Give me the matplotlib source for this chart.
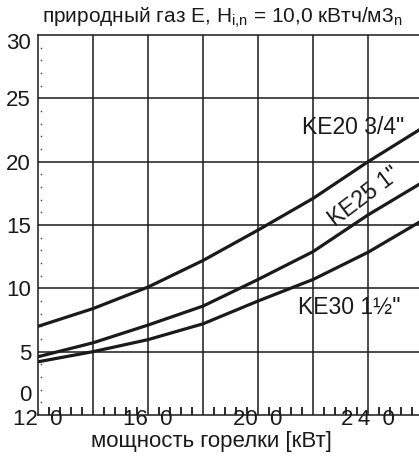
import matplotlib
matplotlib.use("Agg")
import matplotlib.pyplot as plt
import matplotlib.transforms as mtransforms
import numpy as np

plt.rcParams['font.family'] = ['Liberation Sans', 'DejaVu Sans']

# мощность горелки, кВт
power = [120, 140, 160, 180, 200, 220, 240, 260]
# значения по кривым
ke20 = [7.0, 8.4, 10.1, 12.2, 14.6, 17.1, 20.0, 22.7]
ke25 = [4.6, 5.7, 7.1, 8.6, 10.7, 12.9, 15.8, 18.4]
ke30 = [4.2, 5.0, 5.95, 7.2, 9.0, 10.7, 12.85, 15.4]

x_ticks = [120, 160, 200, 240]
x_ticklabels = ["12  0", "16  0", "20  0", "2\u20094  0"]
x_grid = [140, 160, 180, 200, 220, 240]
y_ticks = [0, 5, 10, 15, 20, 25, 30]

fig = plt.figure(figsize=(4.19, 4.62), dpi=100)
ax = fig.add_axes([38 / 419, 1 - 415 / 462, 1 - 38 / 419, 380 / 462])

ink = "#1a1a1a"
for xv in x_grid:
    ax.axvline(xv, color=ink, lw=1.1, zorder=1)
for yv in y_ticks[1:-1]:
    ax.axhline(yv, color=ink, lw=1.1, zorder=1)

for ys in (ke20, ke25, ke30):
    ax.plot(power, ys, color=ink, lw=2.3, zorder=3, solid_capstyle="butt")

ax.set_xlim(120, 258.5)
ax.set_ylim(0, 30)

for s in ("left", "bottom", "top"):
    ax.spines[s].set_color(ink)
    ax.spines[s].set_linewidth(1.1)
ax.spines["right"].set_visible(False)

ax.set_xticks(x_ticks)
ax.set_xticklabels(x_ticklabels)
ax.tick_params(axis="x", which="major", length=0, pad=-4, labelsize=16, colors=ink)

# small inward ticks every 4 kW along the bottom
minor_x = [v for v in np.arange(124, 260, 4) if v % 20 != 0]
ax.vlines(minor_x, 0, 0.02, color=ink, lw=1.3, zorder=4,
          transform=mtransforms.blended_transform_factory(ax.transData, ax.transAxes),
          clip_on=False)

ax.set_yticks(y_ticks)
ax.tick_params(axis="y", which="major", length=0, pad=5, labelsize=16, colors=ink)

# dotted minor marks along the left edge
dots = [v for v in range(1, 30) if v % 5 != 0]
ax.scatter([0.009] * len(dots), dots, s=1.5, color="#555555",
           transform=mtransforms.blended_transform_factory(ax.transAxes, ax.transData),
           zorder=2, linewidths=0)

labels = ax.get_yticklabels()
labels[0].set_transform(labels[0].get_transform() +
                        mtransforms.ScaledTranslation(0, 22 / 100, fig.dpi_scale_trans))
labels[-1].set_transform(labels[-1].get_transform() +
                         mtransforms.ScaledTranslation(0, -6 / 100, fig.dpi_scale_trans))

fig.text(211 / 419, 1 - 441 / 462, "мощность горелки [кВт]", fontsize=16, color=ink,
         ha="center", va="center")
fig.text(222 / 419, 1 - 18 / 462,
         r"природный газ E, H$_{\mathregular{i{,}n}}$ = 10,0 кВтч/м3$_{\mathregular{n}}$",
         fontsize=15, color=ink, ha="center", va="center")

ax.text(234.5, 22.7, 'KE20 3/4"', fontsize=16.5, color=ink, ha="center", va="center")
ax.text(238.8, 17.2, 'KE25 1"', fontsize=16.5, color=ink, ha="center", va="center",
        rotation=37, rotation_mode="anchor")
ax.text(233, 8.5, 'KE30 1½"', fontsize=16.5, color=ink, ha="center", va="center")

fig.savefig("out.png", dpi=100)
